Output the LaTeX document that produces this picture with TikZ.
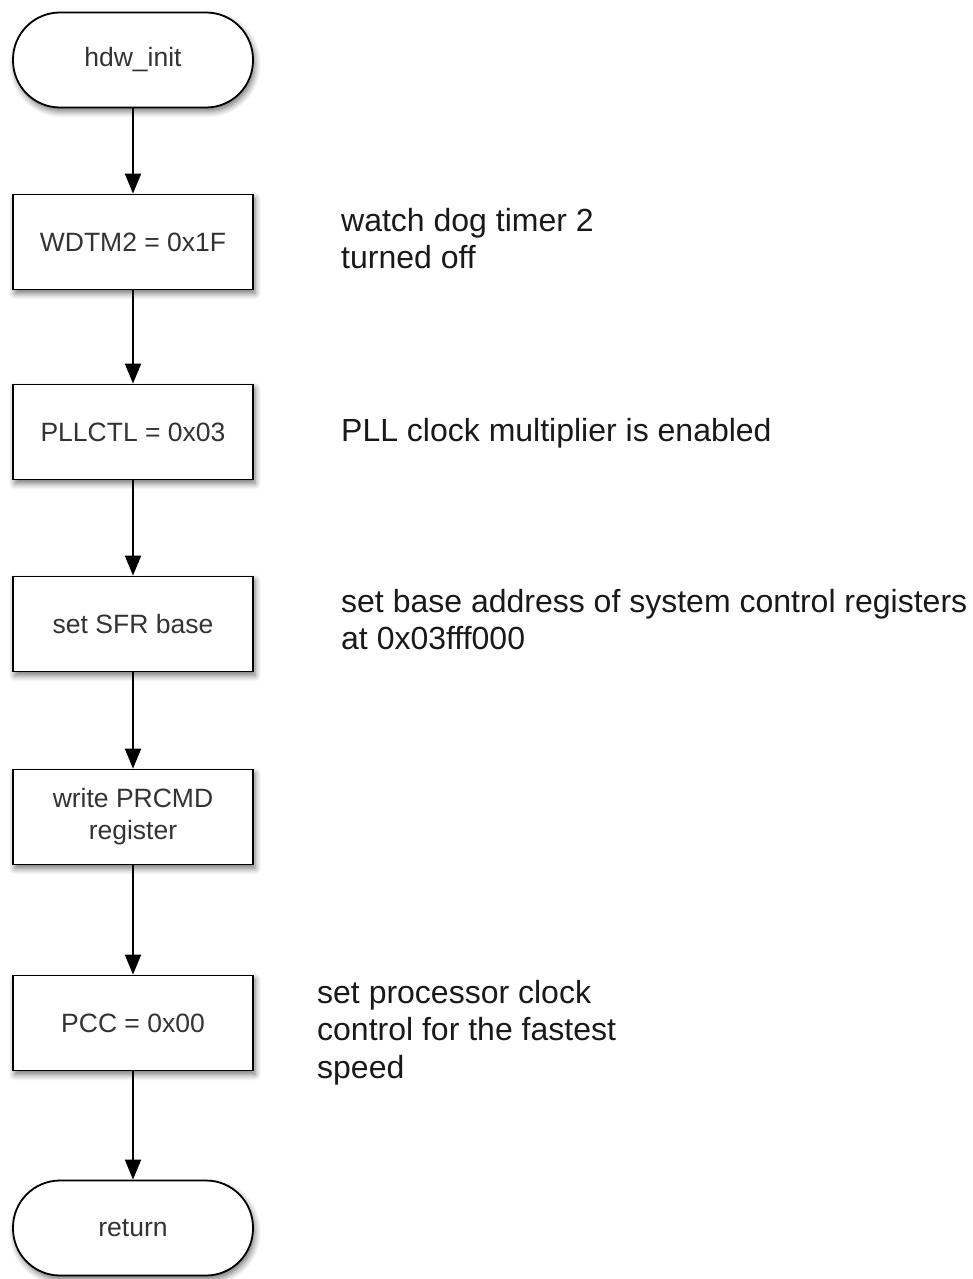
\documentclass[tikz,border=0pt]{standalone}
\usepackage{fontspec}
\setmainfont{Liberation Sans}
\usetikzlibrary{arrows.meta,shadows.blur}

\tikzset{
  boxbase/.style={draw=black, line width=1.8pt, fill=white, minimum width=240pt,
    minimum height=95pt, align=center, text=black!80,
    font=\fontsize{26.5}{32}\selectfont,
    blur shadow={shadow xshift=2pt, shadow yshift=-4pt, shadow blur steps=6, shadow blur radius=6pt, shadow opacity=55}},
  procbox/.style={boxbase, rectangle},
  termbox/.style={boxbase, rounded corners=47pt},
  flow/.style={line width=2pt, -{Triangle[length=20pt,width=16pt]}},
  note/.style={anchor=north west, align=left, inner sep=0pt, text=black!90,
    font=\fontsize{32}{37.5}\selectfont}
}

\begin{document}
\begin{tikzpicture}[x=1pt, y=-1pt]
  \useasboundingbox (0,0) rectangle (972,1279);

  % main chain of steps
  \node[termbox] (start) at (133,60)   {hdw\_init};
  \node[procbox] (wdt)   at (133,242)  {WDTM2 = 0x1F};
  \node[procbox] (pll)   at (133,432)  {PLLCTL = 0x03};
  \node[procbox] (sfr)   at (133,624)  {set SFR base};
  \node[procbox] (prc)   at (133,817)  {write PRCMD\\register};
  \node[procbox] (pcc)   at (133,1023) {PCC = 0x00};
  \node[termbox] (ret)   at (133,1228) {return};

  \draw[flow] (start) -- (wdt);
  \draw[flow] (wdt) -- (pll);
  \draw[flow] (pll) -- (sfr);
  \draw[flow] (sfr) -- (prc);
  \draw[flow] (prc) -- (pcc);
  \draw[flow] (pcc) -- (ret);

  % side comments
  \node[note] (n1) at (341,208) {watch dog timer 2\\turned off};
  \node[note] (n2) at (341,418) {PLL clock multiplier is enabled};
  \node[note] (n3) at (341,589) {set base address of system control registers\\at 0x03fff000};
  \node[note] (n4) at (317,980) {set processor clock\\control for the fastest\\speed};
\end{tikzpicture}
\end{document}
